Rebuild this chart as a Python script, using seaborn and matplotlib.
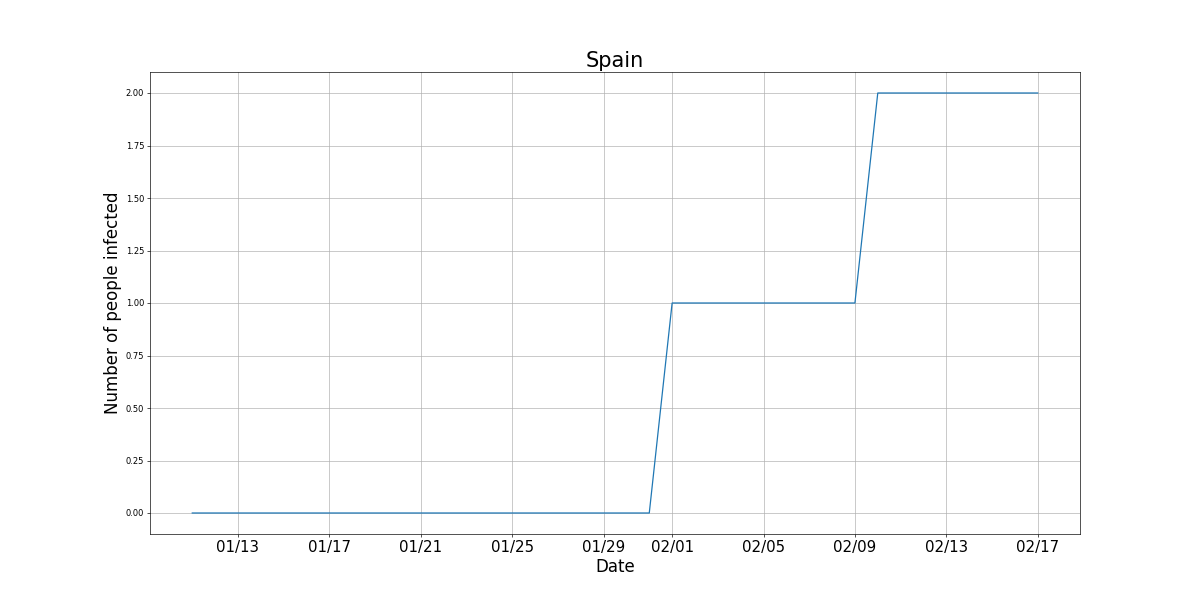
import matplotlib
matplotlib.use("Agg")
import matplotlib.pyplot as plt
import matplotlib.dates as mdates
import numpy as np
import pandas as pd
import seaborn as sns

# Daily counts for Spain, 2020-01-11 .. 2020-02-17
dates = pd.date_range("2020-01-11", "2020-02-17", freq="D")
infected = [0] * 21 + [1] * 9 + [2] * 8

df = pd.DataFrame({"date": dates, "infected": infected})

# big canvas, saved at low dpi -> 1200x600 px
fig, ax = plt.subplots(figsize=(20, 10))
sns.lineplot(data=df, x="date", y="infected", ax=ax, color="#1f77b4", linewidth=1.5)

ax.xaxis.set_major_locator(mdates.DayLocator(bymonthday=range(1, 32, 4)))
ax.xaxis.set_major_formatter(mdates.DateFormatter("%m/%d"))
ax.tick_params(axis="x", labelsize=18)
ax.tick_params(axis="y", labelsize=10)
ax.grid(True)

ax.set_title("Spain", fontsize=25)
ax.set_xlabel("Date", fontsize=20)
ax.set_ylabel("Number of people infected", fontsize=20)

fig.savefig("out.png", dpi=60)
